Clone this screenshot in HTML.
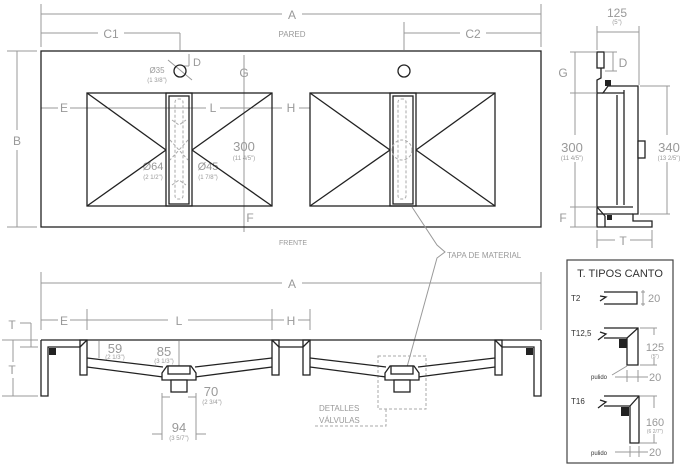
<!DOCTYPE html>
<html><head><style>
body{margin:0;background:#fff;}
svg{display:block;font-family:"Liberation Sans",sans-serif;}
.g{fill:#999;}
.dl{stroke:#999;stroke-width:1;fill:none;}
.k{stroke:#222;stroke-width:1.3;fill:none;}
.kf{stroke:#222;stroke-width:1.3;fill:#fff;}
.ds{stroke:#aaa;stroke-width:1;fill:none;stroke-dasharray:3 2;}
</style></head><body>
<svg width="688" height="471" viewBox="0 0 688 471">
<!-- TOP VIEW dims -->
<g class="dl">
<line x1="41" y1="4" x2="41" y2="47"/><line x1="541" y1="4" x2="541" y2="47"/>
<line x1="41" y1="14" x2="282" y2="14"/><line x1="302" y1="14" x2="541" y2="14"/>
<line x1="41" y1="33" x2="98" y2="33"/><line x1="124" y1="33" x2="180" y2="33"/><line x1="180" y1="33" x2="180" y2="50"/>
<line x1="404" y1="33" x2="460" y2="33"/><line x1="486" y1="33" x2="541" y2="33"/><line x1="404" y1="22" x2="404" y2="50"/>
<line x1="7" y1="51" x2="37" y2="51"/><line x1="7" y1="227" x2="37" y2="227"/>
<line x1="17" y1="51" x2="17" y2="130"/><line x1="17" y1="150" x2="17" y2="227"/>
<line x1="244" y1="55" x2="244" y2="232"/>
<line x1="41" y1="108" x2="58" y2="108"/><line x1="70" y1="108" x2="206" y2="108"/><line x1="220" y1="108" x2="282" y2="108"/><line x1="299" y1="108" x2="310" y2="108"/>
<line x1="189" y1="54" x2="189" y2="66"/><line x1="184" y1="66" x2="189" y2="66"/>
<line x1="168" y1="60" x2="192" y2="80"/>
</g>
<text x="292" y="19" class="g" font-size="12" text-anchor="middle">A</text>
<text x="292" y="37" class="g" font-size="8" text-anchor="middle">PARED</text>
<text x="111" y="38" class="g" font-size="12" text-anchor="middle">C1</text>
<text x="473" y="38" class="g" font-size="12" text-anchor="middle">C2</text>
<text x="17" y="145" class="g" font-size="12" text-anchor="middle">B</text>
<text x="197" y="66" class="g" font-size="11" text-anchor="middle">D</text>
<text x="157" y="73" class="g" font-size="8" text-anchor="middle">Ø35</text>
<text x="157" y="82" class="g" font-size="6" text-anchor="middle">(1 3/8")</text>
<text x="244" y="77" class="g" font-size="12" text-anchor="middle">G</text>
<text x="64" y="112" class="g" font-size="12" text-anchor="middle">E</text>
<text x="213" y="112" class="g" font-size="12" text-anchor="middle">L</text>
<text x="291" y="112" class="g" font-size="12" text-anchor="middle">H</text>
<text x="244" y="151" class="g" font-size="13" text-anchor="middle">300</text>
<text x="244" y="160" class="g" font-size="6" text-anchor="middle">(11 4/5")</text>
<text x="250" y="222" class="g" font-size="12" text-anchor="middle">F</text>
<text x="153" y="170" class="g" font-size="11" text-anchor="middle">Ø64</text>
<text x="153" y="179" class="g" font-size="6" text-anchor="middle">(2 1/2")</text>
<text x="208" y="170" class="g" font-size="11" text-anchor="middle">Ø45</text>
<text x="208" y="179" class="g" font-size="6" text-anchor="middle">(1 7/8")</text>
<text x="293" y="245" class="g" font-size="7" text-anchor="middle">FRENTE</text>
<!-- top view shapes -->
<rect x="41" y="51" width="500" height="176" class="k" fill="none"/>
<circle cx="180" cy="71" r="6" class="k"/><circle cx="404" cy="71" r="6" class="k"/>
<g class="k">
<rect x="87" y="93" width="185" height="113"/>
<line x1="87" y1="93" x2="166" y2="150"/><line x1="87" y1="206" x2="166" y2="150"/>
<line x1="272" y1="93" x2="192" y2="150"/><line x1="272" y1="206" x2="192" y2="150"/>
<rect x="166" y="93" width="26" height="113"/><rect x="169" y="96" width="20" height="108"/>
<rect x="310" y="93" width="185" height="113"/>
<line x1="310" y1="93" x2="390" y2="150"/><line x1="310" y1="206" x2="390" y2="150"/>
<line x1="495" y1="93" x2="416" y2="150"/><line x1="495" y1="206" x2="416" y2="150"/>
<rect x="390" y="93" width="26" height="113"/><rect x="393" y="96" width="20" height="108"/>
</g>
<g class="ds">
<rect x="175" y="99" width="8" height="100" rx="3"/>
<polyline points="172,120 179,125 186,120"/><polyline points="172,185 179,180 186,185"/>
<line x1="170" y1="140" x2="188" y2="160"/><line x1="188" y1="140" x2="170" y2="160"/>
<rect x="398" y="99" width="8" height="100" rx="3"/>
<circle cx="402" cy="150" r="10"/>
</g>
<!-- leader TAPA -->
<polyline points="412,207 437,245 445,252 437,258 407,367" class="dl"/>
<text x="447" y="258" class="g" font-size="8">TAPA DE MATERIAL</text>
<!-- SIDE VIEW -->
<g class="dl">
<line x1="597" y1="26" x2="597" y2="50"/><line x1="639" y1="26" x2="639" y2="85"/>
<line x1="597" y1="32" x2="639" y2="32"/>
<line x1="570" y1="52" x2="596" y2="52"/><line x1="570" y1="93" x2="596" y2="93"/><line x1="570" y1="207" x2="596" y2="207"/><line x1="570" y1="227" x2="596" y2="227"/>
<line x1="575" y1="52" x2="575" y2="135"/><line x1="575" y1="162" x2="575" y2="227"/>
<line x1="605" y1="52" x2="617" y2="52"/><line x1="605" y1="71" x2="617" y2="71"/><line x1="613" y1="52" x2="613" y2="71"/>
<line x1="640" y1="86" x2="670" y2="86"/><line x1="640" y1="214" x2="670" y2="214"/>
<line x1="667" y1="86" x2="667" y2="135"/><line x1="667" y1="162" x2="667" y2="214"/>
<line x1="597" y1="230" x2="597" y2="248"/><line x1="652" y1="230" x2="652" y2="248"/>
<line x1="597" y1="240" x2="615" y2="240"/><line x1="630" y1="240" x2="652" y2="240"/>
</g>
<text x="617" y="17" class="g" font-size="12" text-anchor="middle">125</text>
<text x="617" y="24" class="g" font-size="6" text-anchor="middle">(5")</text>
<text x="623" y="67" class="g" font-size="12" text-anchor="middle">D</text>
<text x="563" y="77" class="g" font-size="12" text-anchor="middle">G</text>
<text x="572" y="152" class="g" font-size="13" text-anchor="middle">300</text>
<text x="572" y="160" class="g" font-size="6" text-anchor="middle">(11 4/5")</text>
<text x="669" y="152" class="g" font-size="13" text-anchor="middle">340</text>
<text x="669" y="160" class="g" font-size="6" text-anchor="middle">(13 2/5")</text>
<text x="563" y="222" class="g" font-size="12" text-anchor="middle">F</text>
<text x="623" y="245" class="g" font-size="12" text-anchor="middle">T</text>
<g class="k">
<rect x="597" y="52" width="7" height="16"/>
<polyline points="601,68 601,78 597,80 597,227 652,227 652,221 633,221 633,214 638,214 638,86 608,86 603,93 624,93"/>
<line x1="597" y1="93" x2="603" y2="93"/>
<line x1="624" y1="90" x2="624" y2="205"/><line x1="617" y1="95" x2="617" y2="205"/>
<line x1="597" y1="207" x2="633" y2="207"/><line x1="597" y1="207" x2="605" y2="216"/><line x1="605" y1="216" x2="605" y2="227"/>
<line x1="633" y1="214" x2="597" y2="214"/>
<rect x="638" y="141" width="7" height="17" fill="#fff"/>
</g>
<rect x="605" y="80" width="6" height="6" fill="#222"/>
<rect x="607" y="215" width="5" height="5" fill="#222"/>
<!-- LEGEND -->
<rect x="567" y="260" width="106" height="203" fill="none" stroke="#444" stroke-width="1.2"/>
<text x="620" y="277" font-size="11" fill="#333" text-anchor="middle">T. TIPOS CANTO</text>
<text x="571" y="301" font-size="8" fill="#333">T2</text>
<text x="571" y="336" font-size="8" fill="#333">T12,5</text>
<text x="571" y="404" font-size="8" fill="#333">T16</text>
<text x="591" y="379" font-size="6" fill="#333">pulido</text>
<text x="591" y="455" font-size="6" fill="#333">pulido</text>
<g class="k">
<polyline points="604,292 637,292 637,304 604,304"/>
<polyline points="600,296 606,297 600,301"/>
<polyline points="604,328 638,328 638,365 627,365 627,338 604,338"/>
<polyline points="600,332 606,334 598,340"/>
<line x1="627" y1="338" x2="638" y2="328"/>
<polyline points="604,396 639,396 639,443 630,443 630,406 604,406"/>
<polyline points="600,400 606,402 598,408"/>
<line x1="630" y1="406" x2="639" y2="396"/>
</g>
<rect x="619" y="339" width="8" height="9" fill="#222"/>
<rect x="621" y="407" width="8" height="9" fill="#222"/>
<g class="dl">
<line x1="641" y1="292" x2="645" y2="292"/><line x1="641" y1="304" x2="645" y2="304"/><line x1="643" y1="290" x2="643" y2="306"/>
<line x1="640" y1="328" x2="657" y2="328"/><line x1="640" y1="365" x2="657" y2="365"/><line x1="654" y1="328" x2="654" y2="335"/><line x1="654" y1="358" x2="654" y2="365"/>
<line x1="640" y1="396" x2="657" y2="396"/><line x1="640" y1="443" x2="657" y2="443"/><line x1="654" y1="396" x2="654" y2="408"/><line x1="654" y1="434" x2="654" y2="443"/>
<line x1="615" y1="377" x2="648" y2="377"/><line x1="627" y1="370" x2="627" y2="382"/><line x1="638" y1="370" x2="638" y2="382"/>
<line x1="615" y1="452" x2="648" y2="452"/><line x1="630" y1="446" x2="630" y2="457"/><line x1="639" y1="446" x2="639" y2="457"/>
<line x1="612" y1="375" x2="627" y2="366"/>
</g>
<text x="648" y="302" class="g" font-size="11">20</text>
<text x="655" y="351" class="g" font-size="11" text-anchor="middle">125</text>
<text x="655" y="358" class="g" font-size="5" text-anchor="middle">(5")</text>
<text x="655" y="426" class="g" font-size="11" text-anchor="middle">160</text>
<text x="655" y="433" class="g" font-size="5" text-anchor="middle">(6 2/7")</text>
<text x="649" y="381" class="g" font-size="11">20</text>
<text x="649" y="456" class="g" font-size="11">20</text>
<!-- FRONT SECTION -->
<g class="dl">
<line x1="41" y1="272" x2="41" y2="330"/><line x1="541" y1="272" x2="541" y2="330"/>
<line x1="41" y1="283" x2="282" y2="283"/><line x1="302" y1="283" x2="541" y2="283"/>
<line x1="87" y1="309" x2="87" y2="330"/><line x1="272" y1="309" x2="272" y2="330"/><line x1="310" y1="309" x2="310" y2="330"/>
<line x1="41" y1="320" x2="58" y2="320"/><line x1="70" y1="320" x2="87" y2="320"/>
<line x1="87" y1="320" x2="168" y2="320"/><line x1="188" y1="320" x2="272" y2="320"/>
<line x1="272" y1="320" x2="284" y2="320"/><line x1="298" y1="320" x2="310" y2="320"/>
<line x1="20" y1="323" x2="31" y2="323"/><line x1="31" y1="323" x2="31" y2="347"/><line x1="20" y1="347" x2="38" y2="347"/>
<line x1="2" y1="340" x2="38" y2="340"/><line x1="2" y1="396" x2="38" y2="396"/>
<line x1="13" y1="340" x2="13" y2="362"/><line x1="13" y1="378" x2="13" y2="396"/>
<line x1="99" y1="341" x2="99" y2="358"/>
<line x1="179" y1="341" x2="179" y2="366"/>
<line x1="162" y1="393" x2="162" y2="440"/><line x1="196" y1="393" x2="196" y2="440"/>
<line x1="162" y1="397" x2="170" y2="397"/><line x1="188" y1="397" x2="196" y2="397"/>
<line x1="152" y1="434" x2="162" y2="434"/><line x1="196" y1="434" x2="206" y2="434"/>
</g>
<text x="292" y="288" class="g" font-size="12" text-anchor="middle">A</text>
<text x="64" y="325" class="g" font-size="12" text-anchor="middle">E</text>
<text x="179" y="325" class="g" font-size="12" text-anchor="middle">L</text>
<text x="291" y="325" class="g" font-size="12" text-anchor="middle">H</text>
<text x="12" y="329" class="g" font-size="12" text-anchor="middle">T</text>
<text x="12" y="374" class="g" font-size="12" text-anchor="middle">T</text>
<text x="115" y="353" class="g" font-size="13" text-anchor="middle">59</text>
<text x="115" y="359" class="g" font-size="6" text-anchor="middle">(2 1/3")</text>
<text x="164" y="356" class="g" font-size="13" text-anchor="middle">85</text>
<text x="164" y="363" class="g" font-size="6" text-anchor="middle">(3 1/3")</text>
<text x="211" y="396" class="g" font-size="13" text-anchor="middle">70</text>
<text x="212" y="404" class="g" font-size="6" text-anchor="middle">(2 3/4")</text>
<text x="179" y="432" class="g" font-size="13" text-anchor="middle">94</text>
<text x="179" y="440" class="g" font-size="6" text-anchor="middle">(3 5/7")</text>
<text x="319" y="411" class="g" font-size="8">DETALLES</text>
<text x="319" y="423" class="g" font-size="8">VÁLVULAS</text>
<rect x="378" y="356" width="48" height="53" class="ds"/>
<polyline points="386,409 386,426 314,426" class="ds"/>
<g class="k">
<line x1="41" y1="340" x2="541" y2="340"/>
<polyline points="41,340 41,396 48,396 48,347 80,347"/>
<rect x="80" y="340" width="7" height="35"/>
<line x1="80" y1="347" x2="87" y2="340"/>
<rect x="272" y="340" width="7" height="35"/><line x1="272" y1="340" x2="279" y2="347"/>
<line x1="279" y1="347" x2="303" y2="347"/>
<rect x="303" y="340" width="7" height="35"/><line x1="303" y1="347" x2="310" y2="340"/>
<rect x="495" y="340" width="7" height="35"/><line x1="495" y1="340" x2="502" y2="347"/>
<polyline points="541,340 541,396 534,396 534,347 502,347"/>
<polyline points="87,358 163,367"/><polyline points="87,367 163,377"/>
<polyline points="195,367 272,358"/><polyline points="195,377 272,367"/>
<polyline points="310,358 386,367"/><polyline points="310,367 386,377"/>
<polyline points="418,367 495,358"/><polyline points="418,377 495,367"/>
<polygon points="162,373 167,366 191,366 196,373 196,380 162,380" fill="#fff"/>
<rect x="168" y="366" width="22" height="8" fill="#fff"/>
<rect x="171" y="380" width="16" height="12" fill="#fff"/>
<polygon points="385,373 390,366 414,366 419,373 419,380 385,380" fill="#fff"/>
<rect x="391" y="366" width="22" height="8" fill="#fff"/>
<rect x="394" y="380" width="16" height="12" fill="#fff"/>
</g>
<rect x="49" y="348" width="7" height="7" fill="#222"/>
<rect x="526" y="348" width="7" height="7" fill="#222"/>
</svg>
</body></html>
